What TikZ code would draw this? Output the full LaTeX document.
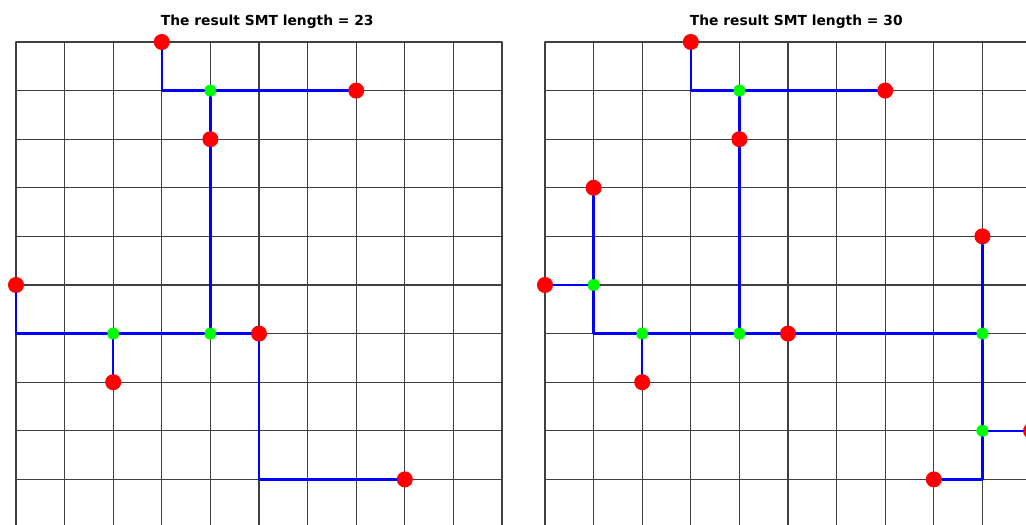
\documentclass[tikz,border=0pt]{standalone}
\usepackage{fontspec}
\setmainfont{DejaVu Sans}

\begin{document}
\begin{tikzpicture}[x=1cm,y=-1cm,line cap=round,line join=round,
  gridline/.style={line width=0.75pt,black!75},
  wire/.style={blue,line width=1.5pt},
  term/.style={circle,fill=red,inner sep=0pt,minimum size=0.33cm},
  stein/.style={circle,fill=green,inner sep=0pt,minimum size=0.25cm},
  ttl/.style={inner sep=1pt,font=\bfseries\fontsize{8.1}{10}\selectfont}]
  \def\gx{10.885}
  \useasboundingbox (-0.329,-0.864) rectangle (20.782,9.918);
  \clip (-0.329,-0.864) rectangle (20.782,9.918);
  % 两个网格
  \foreach \ox in {0,\gx} {
    \foreach \i in {0,...,10} {
      \draw[gridline] ({\ox+\i},0) -- ({\ox+\i},10);
    }
    \foreach \j in {0,...,10} {
      \draw[gridline] (\ox,\j) -- ({\ox+10},\j);
    }
  }
  % 左图：长度 23
  \node[ttl] (ttlL) at (5.17,-0.42) {The result SMT length = 23};
  \node[term] (L1) at (3,0) {};
  \node[term] (L2) at (7,1) {};
  \node[term] (L3) at (4,2) {};
  \node[term] (L4) at (0,5) {};
  \node[term] (L5) at (5,6) {};
  \node[term] (L6) at (2,7) {};
  \node[term] (L7) at (8,9) {};
  \node[stein] (LS1) at (4,1) {};
  \node[stein] (LS2) at (2,6) {};
  \node[stein] (LS3) at (4,6) {};
  \draw[wire] (L1) |- (LS1);
  \draw[wire] (LS1) -- (L2);
  \draw[wire] (LS1) -- (L3);
  \draw[wire] (L3) -- (LS3);
  \draw[wire] (L4) |- (LS2);
  \draw[wire] (LS2) -- (LS3);
  \draw[wire] (LS3) -- (L5);
  \draw[wire] (LS2) -- (L6);
  \draw[wire] (L5) |- (L7);
  % 右图：长度 30
  \begin{scope}[shift={(\gx,0)}]
    \node[ttl] (ttlR) at (5.17,-0.42) {The result SMT length = 30};
    \node[term] (R1) at (3,0) {};
    \node[term] (R2) at (7,1) {};
    \node[term] (R3) at (4,2) {};
    \node[term] (R4) at (1,3) {};
    \node[term] (R5) at (0,5) {};
    \node[term] (R6) at (5,6) {};
    \node[term] (R7) at (2,7) {};
    \node[term] (R8) at (9,4) {};
    \node[term] (R9) at (10,8) {};
    \node[term] (R10) at (8,9) {};
    \node[stein] (RS1) at (4,1) {};
    \node[stein] (RS2) at (1,5) {};
    \node[stein] (RS3) at (2,6) {};
    \node[stein] (RS4) at (4,6) {};
    \node[stein] (RS5) at (9,6) {};
    \node[stein] (RS6) at (9,8) {};
  \end{scope}
  \draw[wire] (R1) |- (RS1);
  \draw[wire] (RS1) -- (R2);
  \draw[wire] (RS1) -- (R3);
  \draw[wire] (R3) -- (RS4);
  \draw[wire] (R4) -- (RS2);
  \draw[wire] (R5) -- (RS2);
  \draw[wire] (RS2) |- (RS3);
  \draw[wire] (RS3) -- (R7);
  \draw[wire] (RS3) -- (RS4);
  \draw[wire] (RS4) -- (R6);
  \draw[wire] (R6) -- (RS5);
  \draw[wire] (R8) -- (RS5);
  \draw[wire] (RS5) -- (RS6);
  \draw[wire] (RS6) -- (R9);
  \draw[wire] (RS6) |- (R10);
\end{tikzpicture}
\end{document}
